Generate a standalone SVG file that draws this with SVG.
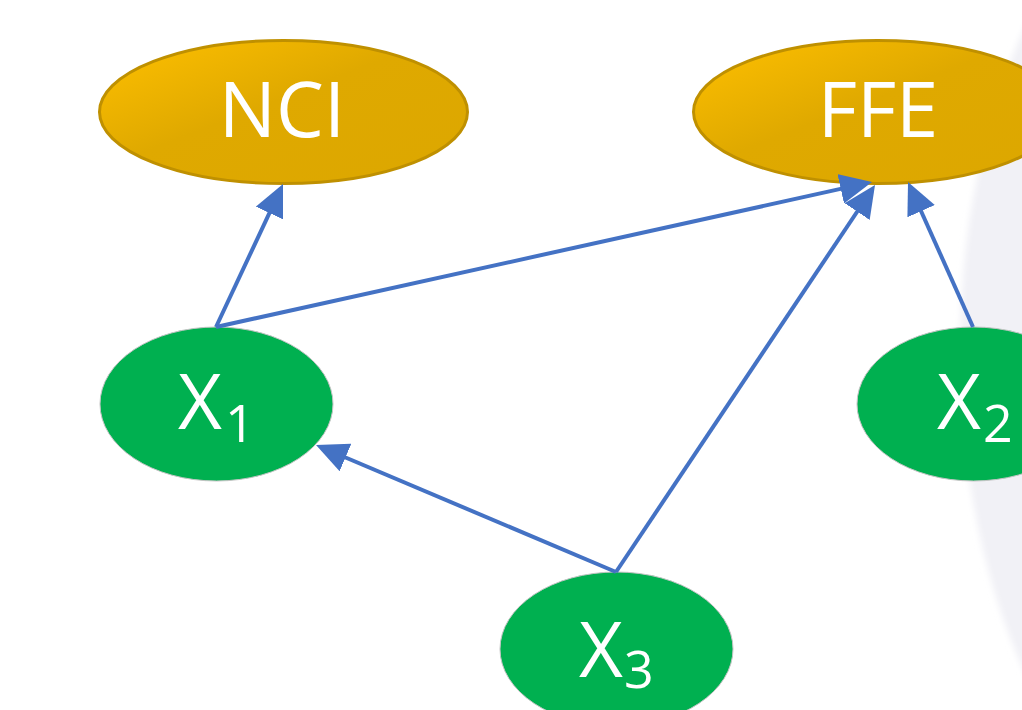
<svg xmlns="http://www.w3.org/2000/svg" width="1022" height="710" viewBox="0 0 1022 710">
  <defs>
    <linearGradient id="gold" x1="0" y1="0" x2="1" y2="1">
      <stop offset="0" stop-color="#FFC000"/>
      <stop offset="0.45" stop-color="#DFA900"/>
      <stop offset="1" stop-color="#DCA700"/>
    </linearGradient>
    <filter id="soft" x="-20%" y="-20%" width="140%" height="140%">
      <feGaussianBlur stdDeviation="3"/>
    </filter>
    <marker id="arrow" viewBox="0 0 32 30" markerWidth="32" markerHeight="30" refX="23" refY="15" orient="auto" markerUnits="userSpaceOnUse">
      <path d="M0,0 L32,15 L0,30 Z" fill="#4472C4"/>
    </marker>
    <style>
      .outcome { fill: url(#gold); stroke: #BF9000; stroke-width: 3; }
      .factor { fill: #00B050; stroke: #C4C4C4; stroke-width: 1; }
      .label { font-family: "Open Sans", "Liberation Sans", sans-serif; fill: #FFFFFF; font-size: 76px; }
      .sub { font-size: 52px; }
      .edge { stroke: #4472C4; stroke-width: 4; fill: none; marker-end: url(#arrow); }
    </style>
  </defs>

  <rect width="1022" height="710" fill="#FFFFFF"/>
  <!-- faint backdrop shape on the right -->
  <ellipse cx="1260" cy="350" rx="300" ry="520" fill="#F1F1F6" filter="url(#soft)"/>

  <g id="node-nci">
    <ellipse class="outcome" cx="283.5" cy="112" rx="184" ry="71.5"/>
    <text class="label" x="282" y="137" text-anchor="middle">NCI</text>
  </g>

  <g id="node-ffe">
    <ellipse class="outcome" cx="877.5" cy="112" rx="184" ry="71.5"/>
    <text class="label" x="878" y="137" text-anchor="middle">FFE</text>
  </g>

  <g id="node-x1">
    <ellipse class="factor" cx="216.5" cy="404" rx="116.5" ry="77"/>
    <text class="label" x="178" y="429">X<tspan class="sub" x="225" y="442">1</tspan></text>
  </g>

  <g id="node-x2">
    <ellipse class="factor" cx="973.5" cy="404" rx="116.5" ry="77"/>
    <text class="label" x="937" y="429">X<tspan class="sub" x="983" y="442">2</tspan></text>
  </g>

  <g id="node-x3">
    <ellipse class="factor" cx="616.5" cy="649" rx="116.5" ry="77"/>
    <text class="label" x="579" y="677">X<tspan class="sub" x="624" y="688">3</tspan></text>
  </g>

  <g id="connectors">
    <line class="edge" x1="216" y1="327" x2="279.2" y2="192.2"/>
    <line class="edge" x1="216" y1="327" x2="863.2" y2="183.9"/>
    <line class="edge" x1="616" y1="572" x2="870" y2="192.5"/>
    <line class="edge" x1="973" y1="327" x2="911.7" y2="190.2"/>
    <line class="edge" x1="616" y1="572" x2="324.3" y2="448.5"/>
  </g>
</svg>
